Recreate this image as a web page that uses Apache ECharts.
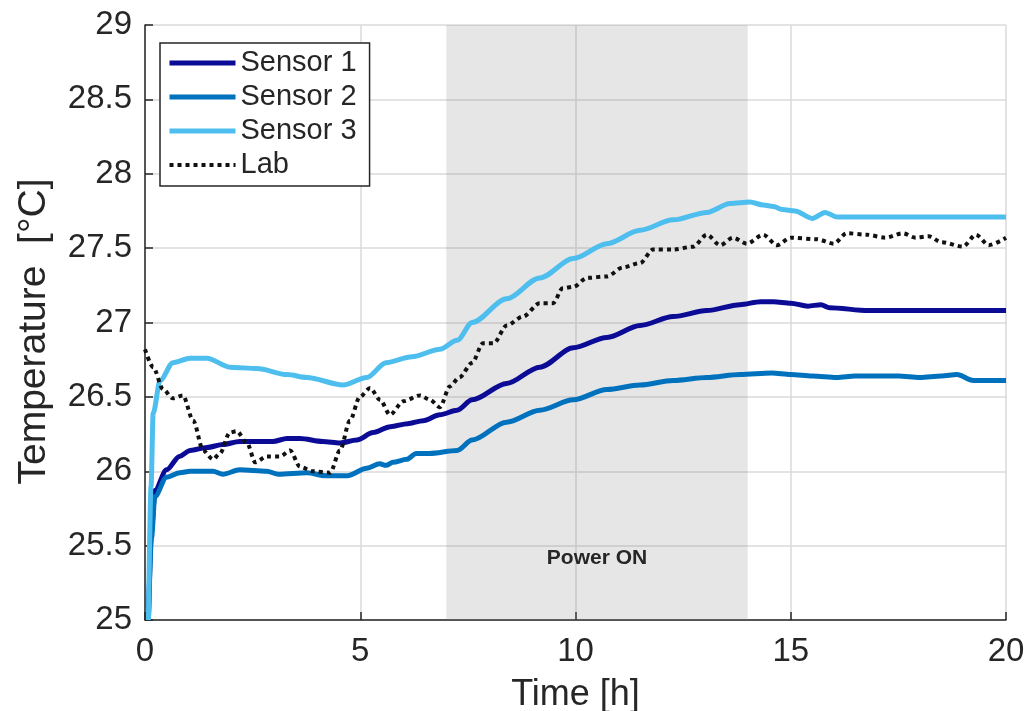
<!DOCTYPE html>
<html>
<head>
<meta charset="utf-8">
<script src="https://cdn.jsdelivr.net/npm/echarts@6/dist/echarts.min.js"></script>
<style>
html,body{margin:0;padding:0;background:#fff;}
#chart{width:1028px;height:711px;}
</style>
</head>
<body>
<div id="chart"></div>
<script>
// ---- Data (time in hours, temperature in °C) ----
const seriesNames = ['Sensor 1', 'Sensor 2', 'Sensor 3', 'Lab'];
const xTicks = [0, 5, 10, 15, 20];
const yTicks = [25, 25.5, 26, 26.5, 27, 27.5, 28, 28.5, 29];
const powerOnInterval = [7, 14];
const powerOnLabel = 'Power ON';

const sensor1 = [[0.08,25.0],[0.15,25.6],[0.23,25.87],[0.5,26.01],[0.8,26.1],[1.05,26.14],[1.44,26.16],[1.81,26.18],[2.2,26.2],[2.97,26.2],[3.3,26.22],[3.6,26.22],[4.13,26.2],[4.53,26.19],[4.92,26.21],[5.3,26.26],[5.7,26.30],[6.1,26.32],[6.46,26.34],[6.85,26.38],[7.25,26.41],[7.6,26.48],[8.4,26.59],[9.17,26.70],[9.95,26.83],[10.73,26.90],[11.5,26.98],[12.27,27.04],[13.05,27.08],[13.82,27.12],[14.3,27.14],[14.6,27.14],[15.0,27.13],[15.4,27.11],[15.7,27.12],[15.9,27.10],[16.8,27.08],[20,27.08]];

const sensor2 = [[0.08,25.0],[0.15,25.55],[0.23,25.83],[0.5,25.96],[0.81,25.99],[1.05,26.0],[1.58,26.0],[1.81,25.98],[2.2,26.01],[2.83,26.0],[3.1,25.98],[3.76,25.99],[4.2,25.97],[4.7,25.97],[5.15,26.02],[5.45,26.05],[5.6,26.04],[5.76,26.06],[6.08,26.08],[6.3,26.12],[6.6,26.12],[7.25,26.14],[7.6,26.21],[8.4,26.33],[9.17,26.41],[9.95,26.48],[10.73,26.55],[11.5,26.58],[12.27,26.61],[13.05,26.63],[13.82,26.65],[14.56,26.66],[15.0,26.65],[15.5,26.64],[16.07,26.63],[16.5,26.64],[17.5,26.64],[18.0,26.63],[18.5,26.64],[18.86,26.65],[19.24,26.61],[20,26.61]];

const sensor3 = [[0.08,25.0],[0.14,25.9],[0.19,26.39],[0.35,26.61],[0.65,26.73],[1.05,26.76],[1.44,26.76],[1.97,26.70],[2.6,26.69],[3.3,26.65],[3.76,26.63],[4.6,26.58],[5.15,26.63],[5.6,26.73],[6.2,26.77],[6.85,26.82],[7.25,26.88],[7.6,27.0],[8.4,27.16],[9.17,27.30],[9.95,27.43],[10.73,27.53],[11.5,27.62],[12.27,27.69],[13.05,27.74],[13.59,27.80],[14.05,27.81],[14.36,27.79],[14.6,27.78],[14.8,27.76],[15.1,27.75],[15.5,27.70],[15.8,27.74],[16.07,27.71],[20,27.71]];

const lab = [[0,26.82],[0.19,26.70],[0.42,26.55],[0.65,26.49],[0.88,26.51],[1.12,26.34],[1.35,26.14],[1.58,26.08],[1.74,26.12],[1.97,26.26],[2.13,26.27],[2.37,26.19],[2.56,26.06],[2.83,26.10],[3.14,26.10],[3.37,26.14],[3.6,26.03],[3.9,26.0],[4.3,25.99],[4.53,26.14],[4.76,26.34],[4.99,26.50],[5.23,26.56],[5.46,26.48],[5.69,26.38],[6.0,26.47],[6.39,26.51],[6.62,26.48],[6.85,26.43],[7.08,26.57],[7.3,26.63],[7.6,26.73],[7.85,26.86],[8.1,26.86],[8.4,26.98],[8.78,27.04],[9.17,27.13],[9.48,27.13],[9.7,27.23],[9.95,27.24],[10.27,27.30],[10.73,27.31],[11.1,27.37],[11.5,27.40],[11.8,27.49],[12.27,27.49],[12.73,27.51],[13.05,27.59],[13.36,27.52],[13.66,27.57],[13.98,27.53],[14.36,27.59],[14.68,27.52],[15.0,27.57],[15.6,27.56],[16.0,27.53],[16.3,27.60],[16.77,27.59],[17.2,27.57],[17.6,27.60],[17.9,27.57],[18.2,27.58],[18.5,27.54],[19.0,27.51],[19.3,27.59],[19.6,27.52],[20,27.57]];

const colors = ['#0b0b96', '#0072bd', '#4dbeee', '#111111'];
const widths = [5, 5, 5, 4];
const FONT = '"Liberation Sans", Arial, Helvetica, sans-serif';
const TXT = '#262626';

const chart = echarts.init(document.getElementById('chart'), null, {renderer: 'canvas'});

const dataSets = [sensor1, sensor2, sensor3, lab];
const series = [{
  name: '_shade',
  type: 'line',
  data: [],
  z: 1,
  silent: true,
  markArea: {
    silent: true,
    itemStyle: {color: 'rgba(130,130,130,0.2)'},
    label: {
      show: true,
      position: 'insideBottom',
      distance: 51,
      formatter: powerOnLabel,
      fontFamily: FONT,
      fontSize: 21,
      fontWeight: 'bold',
      color: TXT
    },
    data: [[{xAxis: powerOnInterval[0]}, {xAxis: powerOnInterval[1]}]]
  }
}];
dataSets.forEach((d, i) => {
  series.push({
    name: seriesNames[i],
    type: 'line',
    data: d,
    symbol: 'none',
    smooth: 0.3,
    smoothMonotone: 'x',
    z: 3 + i,
    color: colors[i],
    lineStyle: i === 3
      ? {color: colors[i], width: widths[i], type: [4, 4]}
      : {color: colors[i], width: widths[i]}
  });
});

chart.setOption({
  animation: false,
  backgroundColor: '#fff',
  grid: {left: 145, right: 22, top: 25, bottom: 91, containLabel: false, outerBoundsMode: 'none'},
  legend: {
    data: seriesNames.map((n, i) => ({
      name: n,
      itemStyle: {opacity: 0},
      lineStyle: {width: widths[i], color: colors[i], type: i === 3 ? [4, 4] : 'solid'}
    })),
    orient: 'vertical',
    left: 160,
    top: 43,
    itemWidth: 66,
    itemHeight: 14,
    itemGap: 4,
    padding: [5, 13, 6, 7],
    borderColor: TXT,
    borderWidth: 1.5,
    backgroundColor: '#fff',
    itemStyle: {opacity: 0},
    textStyle: {fontFamily: FONT, fontSize: 29, color: TXT, lineHeight: 30}
  },
  xAxis: {
    type: 'value',
    min: xTicks[0],
    max: xTicks[xTicks.length - 1],
    interval: xTicks[1] - xTicks[0],
    name: 'Time [h]',
    nameLocation: 'middle',
    nameGap: 57,
    nameTextStyle: {fontFamily: FONT, fontSize: 36, color: TXT},
    axisLine: {show: true, onZero: false, lineStyle: {color: TXT, width: 1.5}},
    axisTick: {show: true, inside: true, length: 8, lineStyle: {color: TXT, width: 1.5}},
    axisLabel: {fontFamily: FONT, fontSize: 33, color: TXT, margin: 15},
    splitLine: {show: true, lineStyle: {color: '#dadada', width: 1.5}}
  },
  yAxis: {
    type: 'value',
    min: yTicks[0],
    max: yTicks[yTicks.length - 1],
    interval: yTicks[1] - yTicks[0],
    name: 'Temperature  [°C]',
    nameLocation: 'middle',
    nameGap: 91,
    nameTextStyle: {fontFamily: FONT, fontSize: 39, color: TXT, padding: [0, 18, 0, 0]},
    axisLine: {show: true, onZero: false, lineStyle: {color: TXT, width: 1.5}},
    axisTick: {show: true, inside: true, length: 8, lineStyle: {color: TXT, width: 1.5}},
    axisLabel: {fontFamily: FONT, fontSize: 33, color: TXT, margin: 13},
    splitLine: {show: true, lineStyle: {color: '#dadada', width: 1.5}}
  },
  series: series
});
</script>
</body>
</html>
